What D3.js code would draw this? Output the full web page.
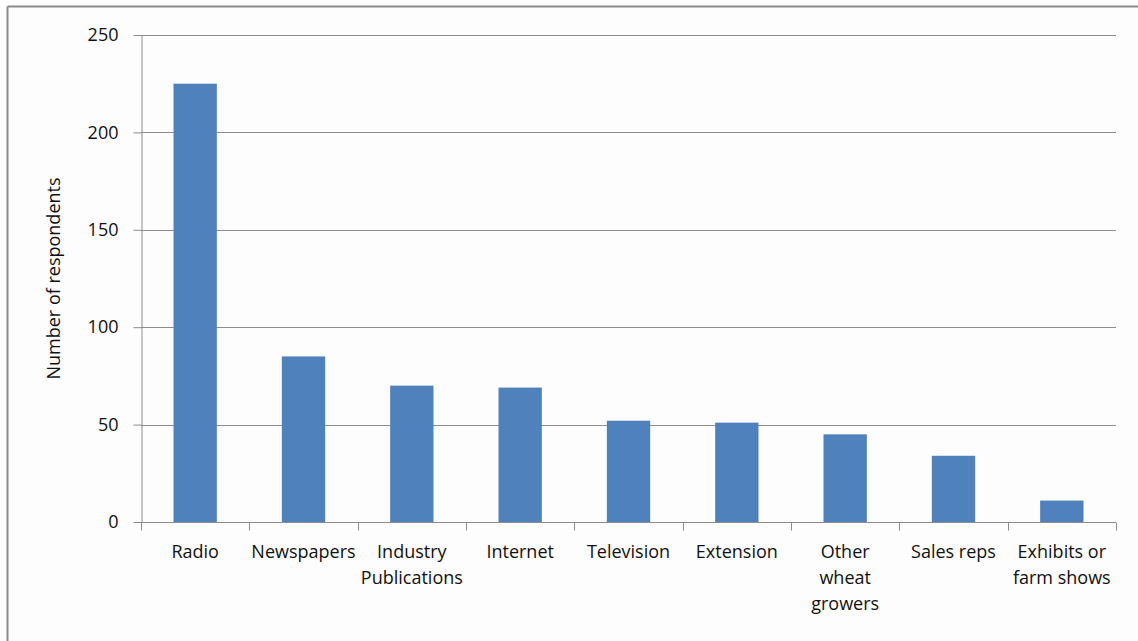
<!DOCTYPE html>
<html>
<head>
<meta charset="utf-8">
<script src="https://cdn.jsdelivr.net/npm/d3@7"></script>
<style>
  html, body { margin: 0; padding: 0; background: #fdfdfd; }
  svg { display: block; }
  text { font-family: "Open Sans", Lato, sans-serif; fill: #111; }
</style>
</head>
<body>
<svg id="chart" width="1138" height="641"></svg>
<script>
// Information sources named by respondents
const categories = [
  ["Radio"],
  ["Newspapers"],
  ["Industry", "Publications"],
  ["Internet"],
  ["Television"],
  ["Extension"],
  ["Other", "wheat", "growers"],
  ["Sales reps"],
  ["Exhibits or", "farm shows"]
];
const respondents = [225, 85, 70, 69, 52, 51, 45, 34, 11];
const yTicks = [0, 50, 100, 150, 200, 250];
const yTitle = "Number of respondents";

const FONT = "'Open Sans', Lato, sans-serif";
const FS = 18;

const svg = d3.select("#chart");
const W = 1138, H = 641;
const plot = { left: 141, right: 1116, top: 35, bottom: 522 };

// outer frame (top and left edges visible)
svg.append("rect").attr("x", 0).attr("y", 0).attr("width", W).attr("height", H).attr("fill", "#fdfdfd");
svg.append("line").attr("x1", 7.5).attr("x2", W).attr("y1", 6.5).attr("y2", 6.5)
  .attr("stroke", "#8c8c8c").attr("stroke-width", 2);
svg.append("line").attr("x1", 7.5).attr("x2", 7.5).attr("y1", 6.5).attr("y2", H)
  .attr("stroke", "#8c8c8c").attr("stroke-width", 2);

const keys = categories.map((c, i) => i);
const x = d3.scaleBand().domain(keys).range([plot.left, plot.right]).paddingInner(0.6).paddingOuter(0.3);
const xBand = d3.scaleBand().domain(keys).range([plot.left, plot.right]);
const y = d3.scaleLinear().domain([0, 250]).range([plot.bottom, plot.top]);

// horizontal gridlines
svg.append("g").selectAll("line").data(yTicks.filter(t => t > 0)).join("line")
  .attr("x1", plot.left).attr("x2", plot.right)
  .attr("y1", d => Math.round(y(d)) + 0.5).attr("y2", d => Math.round(y(d)) + 0.5)
  .attr("stroke", "#8c8c8c").attr("stroke-width", 1);

// bars
svg.append("g").selectAll("rect").data(respondents).join("rect")
  .attr("x", (d, i) => x(i))
  .attr("width", x.bandwidth())
  .attr("y", d => y(d))
  .attr("height", d => y(0) - y(d))
  .attr("fill", "#4f81bd");

// y axis
const yAxis = svg.append("g").attr("transform", `translate(${plot.left + 0.5},0)`)
  .call(d3.axisLeft(y).tickValues(yTicks).tickSize(8).tickPadding(15).tickSizeOuter(0));
yAxis.select(".domain").attr("stroke", "#8c8c8c");
yAxis.selectAll(".tick line").attr("stroke", "#8c8c8c");
yAxis.selectAll(".tick text").attr("font-size", FS).attr("font-family", FONT).attr("fill", "#111");

// x axis baseline with boundary ticks
const xAxisG = svg.append("g").attr("transform", `translate(0,${plot.bottom + 0.5})`);
xAxisG.append("line").attr("x1", plot.left).attr("x2", plot.right)
  .attr("stroke", "#8c8c8c");
const bounds = keys.map(k => xBand(k)).concat([plot.right]);
xAxisG.selectAll("line.tk").data(bounds).join("line").attr("class", "tk")
  .attr("x1", d => Math.round(d) + 0.5).attr("x2", d => Math.round(d) + 0.5)
  .attr("y1", 0).attr("y2", 8).attr("stroke", "#8c8c8c");

// category labels
const lbl = svg.append("g").selectAll("text").data(categories).join("text")
  .attr("x", (d, i) => xBand(i) + xBand.bandwidth() / 2)
  .attr("y", 558)
  .attr("text-anchor", "middle")
  .attr("font-size", FS);
lbl.selectAll("tspan").data(d => d).join("tspan")
  .attr("x", function() { return this.parentNode.getAttribute("x"); })
  .attr("dy", (d, i) => i === 0 ? 0 : 26)
  .text(d => d);

// y axis title
svg.append("text")
  .attr("transform", `translate(60,${(plot.top + plot.bottom) / 2}) rotate(-90)`)
  .attr("text-anchor", "middle")
  .attr("font-size", FS)
  .text(yTitle);
</script>
</body>
</html>
